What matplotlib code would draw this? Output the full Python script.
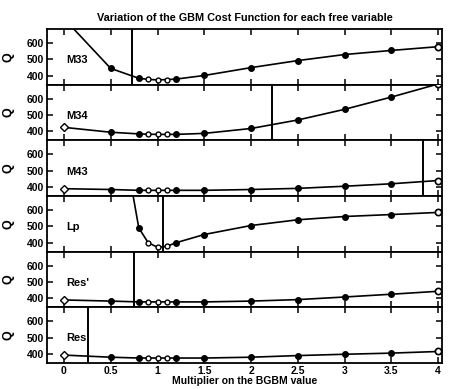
import matplotlib
matplotlib.use('Agg')
import matplotlib.pyplot as plt
import numpy as np

plt.rcParams['font.family'] = ['Liberation Sans', 'DejaVu Sans']
plt.rcParams['font.weight'] = 'bold'

#####################################################################
# data:
multiplier = [0, 0.5, 0.8, 0.9, 1.0, 1.1, 1.2, 1.5, 2, 2.5, 3, 3.5, 4]
names = ['M33', 'M34', 'M43', 'Lp', "Res'", 'Res']

q_m33 = [750, 445, 385, 378, 375, 377, 380, 402, 450, 493, 530, 555, 578]
q_m34 = [425, 395, 385, 383, 382, 382, 382, 388, 418, 470, 535, 610, 690]
q_m43 = [390, 385, 380, 380, 380, 380, 380, 380, 385, 392, 405, 420, 440]
q_lp = [2500, 1460, 490, 400, 372, 378, 400, 450, 505, 540, 560, 572, 585]
q_resp = [390, 383, 378, 378, 378, 378, 378, 378, 383, 392, 408, 425, 443]
q_res = [393, 380, 375, 375, 375, 375, 375, 375, 380, 390, 398, 405, 415]

# optimum multiplier marked by a vertical line
optimum = [0.73, 2.22, 3.84, 1.06, 0.75, 0.26]

series = [q_m33, q_m34, q_m43, q_lp, q_resp, q_res]
xticks = [0, 0.5, 1, 1.5, 2, 2.5, 3, 3.5, 4]
xticklabels = ['0', '0.5', '1', '1.5', '2', '2.5', '3', '3.5', '4']

#####################################################################
# plot:
fig, axes = plt.subplots(6, 1, sharex=True, figsize=(4.49, 3.89), dpi=100)
fig.subplots_adjust(left=0.105, right=0.984, top=0.925, bottom=0.067, hspace=0)

open_idx = [3, 4, 5]

for ax, name, q, xopt in zip(axes, names, series, optimum):
    ax.plot(multiplier, q, color='black', lw=1.2, zorder=2)
    filled = [i for i in range(1, len(q) - 1) if i not in open_idx]
    ax.plot([multiplier[i] for i in filled], [q[i] for i in filled],
            ls='none', marker='o', ms=4, color='black', zorder=3)
    ax.plot([multiplier[i] for i in open_idx], [q[i] for i in open_idx],
            ls='none', marker='o', ms=3.5, mfc='white', mec='black', mew=1, zorder=3)
    ax.plot(multiplier[0], q[0], ls='none', marker='D', ms=4,
            mfc='white', mec='black', mew=1, zorder=3)
    ax.plot(multiplier[-1], q[-1], ls='none', marker='o', ms=4.5,
            mfc='white', mec='black', mew=1.2, zorder=3)
    ax.axvline(xopt, color='black', lw=1.4)
    ax.text(0.02, 495, name, fontsize=8, fontweight='bold', va='center')

    ax.set_xlim(-0.18, 4.04)
    ax.set_ylim(345, 685)
    ax.set_yticks([400, 500, 600])
    ax.set_ylabel('Q', fontsize=9, fontweight='bold')
    ax.yaxis.set_label_coords(-0.083, 0.5)
    ax.tick_params(direction='in', top=True, right=True, length=4, width=1.1,
                   labelsize=7.5, pad=2)
    for s in ax.spines.values():
        s.set_linewidth(1.3)

axes[-1].set_xticks(xticks)
axes[-1].set_xticklabels(xticklabels)
axes[-1].set_xlabel('Multiplier on the BGBM value', fontsize=7.5, fontweight='bold', labelpad=0)
axes[0].set_title('Variation of the GBM Cost Function for each free variable',
                  fontsize=7.8, fontweight='bold', pad=6)

fig.savefig('out.png', dpi=100)
